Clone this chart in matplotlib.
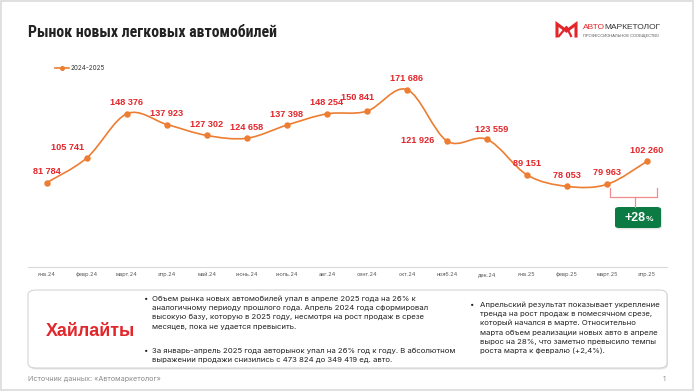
import matplotlib
matplotlib.use("Agg")
import matplotlib.pyplot as plt
import numpy as np
from matplotlib import font_manager
from matplotlib.font_manager import FontProperties
from matplotlib.patches import FancyBboxPatch, Rectangle, PathPatch
from matplotlib.path import Path
from matplotlib.lines import Line2D

W, H = 696, 392

months = [
    "янв.24", "февр.24", "март.24", "апр.24", "май.24", "июнь.24", "июль.24",
    "авг.24", "сент.24", "окт.24", "нояб.24", "дек.24", "янв.25", "февр.25",
    "март.25", "апр.25",
]
sales = [
    81784, 105741, 148376, 137923, 127302, 124658, 137398, 148254,
    150841, 171686, 121926, 123559, 89151, 78053, 79963, 102260,
]
# label offsets from the point, in pixels (dx, dy up)
label_dx = [0, -19, 0, 0, 0, 0, 0, 0, -9, 0, -29, 5, 0, 0, 0, 0]
label_dy = [11, 10, 11, 11, 11, 11, 11, 11, 14, 11, 1, 10, 11, 11, 12, 11]

series_name = "2024-2025"
growth_label = "+28"

bullets_left = [
    ["Объем рынка новых автомобилей упал в апреле 2025 года на 26% к",
     "аналогичному периоду прошлого года. Апрель 2024 года сформировал",
     "высокую базу, которую в 2025 году, несмотря на рост продаж в срезе",
     "месяцев, пока не удается превысить."],
    ["За январь-апрель 2025 года авторынок упал на 26% год к году. В абсолютном",
     "выражении продажи снизились с 473 824 до 349 419 ед. авто."],
]
bullets_right = [
    ["Апрельский результат показывает укрепление",
     "тренда на рост продаж в помесячном срезе,",
     "который начался в марте. Относительно",
     "марта объем реализации новых авто в апреле",
     "вырос на 28%, что заметно превысило темпы",
     "роста марта к февралю (+2,4%)."],
]

ORANGE = "#ED7D31"
RED = "#E3262A"
GREEN = "#0B7A43"


def pick(*names):
    for n in names:
        try:
            font_manager.findfont(n, fallback_to_default=False)
            return n
        except ValueError:
            continue
    return "DejaVu Sans"


def narrow_bold():
    # look for an installed condensed / narrow bold face for the title
    prefs = ["LiberationSansNarrow-Bold", "NotoSans-CondensedBold", "NotoSans-SemiCondensedBold",
             "RobotoCondensed-Bold", "DejaVuSansCondensed-Bold"]
    files = [f.fname for f in font_manager.fontManager.ttflist]
    for p in prefs:
        for f in files:
            if f.split("/")[-1].startswith(p + "."):
                return FontProperties(fname=f)
    return FontProperties(family=pick("Roboto", "Liberation Sans"), weight="bold")


NUM_FONT = pick("Liberation Sans", "Roboto")
BODY_FONT = pick("Inter", "Roboto", "Noto Sans")


def fx(x):
    return x / W


def fy(y):
    return 1 - y / H


def smooth_path(xs, ys):
    # Excel-like smoothed line: cubic Bezier segments through the points
    n = len(xs)
    verts = [(xs[0], ys[0])]
    codes = [Path.MOVETO]
    for i in range(n - 1):
        x0, y0 = xs[max(i - 1, 0)], ys[max(i - 1, 0)]
        x1, y1 = xs[i], ys[i]
        x2, y2 = xs[i + 1], ys[i + 1]
        x3, y3 = xs[min(i + 2, n - 1)], ys[min(i + 2, n - 1)]
        c1 = (x1 + (x2 - x0) / 6, y1 + (y2 - y0) / 6)
        c2 = (x2 - (x3 - x1) / 6, y2 - (y3 - y1) / 6)
        verts += [c1, c2, (x2, y2)]
        codes += [Path.CURVE4] * 3
    return Path(verts, codes)


def fit_width(t, target_px):
    r = fig.canvas.get_renderer()
    w = t.get_window_extent(r).width
    t.set_fontsize(t.get_fontsize() * target_px / w)


fig = plt.figure(figsize=(W / 100, H / 100), dpi=100)
fig.patch.set_facecolor("white")

# slide frame
fig.patches.append(Rectangle((fx(0.5), fy(390)), fx(692.5), 389.5 / H, transform=fig.transFigure,
                             fill=False, edgecolor="#DADADA", linewidth=1.2))

# title
title = fig.text(fx(28), fy(37), "Рынок новых легковых автомобилей", fontproperties=narrow_bold(),
                 fontsize=13, color="#222222", ha="left", va="baseline")
fit_width(title, 249)

# logo
fig.add_artist(Line2D([fx(557), fx(557), fx(566.5), fx(576), fx(576)],
                      [fy(36), fy(24), fy(31), fy(24), fy(36)],
                      transform=fig.transFigure, color=RED, linewidth=2.2, solid_joinstyle="miter"))
fig.add_artist(Line2D([fx(559), fx(566.5), fx(571)], [fy(36), fy(27), fy(36)],
                      transform=fig.transFigure, color=RED, linewidth=1.6))
logo_a = fig.text(fx(583), fy(29), "АВТО", fontsize=6.0, family=NUM_FONT, color=RED,
                  ha="left", va="baseline")
x_end = logo_a.get_window_extent(fig.canvas.get_renderer()).x1
fig.text((x_end - 1) / W, fy(29), "МАРКЕТОЛОГ", fontsize=6.0, family=NUM_FONT, color="#333333",
         ha="left", va="baseline")
fig.text(fx(583), fy(35.5), "ПРОФЕССИОНАЛЬНОЕ СООБЩЕСТВО", fontsize=2.9, family=NUM_FONT,
         color="#555555", ha="left", va="center")

# chart
ax = fig.add_axes([fx(28), fy(267), (667 - 28) / W, (267 - 80) / H])
x = np.arange(len(sales))
ax.add_patch(PathPatch(smooth_path(x, sales), facecolor="none", edgecolor=ORANGE, linewidth=1.2))
ax.plot(x, sales, linestyle="none", marker="o", markersize=3.6, color=ORANGE)
ax.set_xlim(-0.475, 15.5)
ax.set_ylim(0, 181000)
for s in ["top", "left", "right"]:
    ax.spines[s].set_visible(False)
ax.spines["bottom"].set_color("#D9D9D9")
ax.spines["bottom"].set_linewidth(0.8)
ax.set_yticks([])
ax.set_xticks(x)
ax.set_xticklabels(months, fontsize=4, color="#595959", family=BODY_FONT)
ax.tick_params(axis="x", length=0, pad=3.8)

for i, v in enumerate(sales):
    lbl = f"{v:,}".replace(",", " ")
    ax.annotate(lbl, (i, v), xytext=(label_dx[i] * 0.72, label_dy[i] * 0.72), textcoords="offset points",
                ha="center", va="center", fontsize=6.6, fontweight="bold", color=RED, family=NUM_FONT)

# legend
fig.add_artist(Line2D([fx(55), fx(69)], [fy(68), fy(68)], transform=fig.transFigure, color=ORANGE,
                      linewidth=1.2))
fig.add_artist(Line2D([fx(62)], [fy(68)], transform=fig.transFigure, color=ORANGE, marker="o",
                      markersize=2.6, linestyle="none"))
fig.text(fx(71), fy(68), series_name, fontsize=4.6, color="#333333", family=BODY_FONT, ha="left", va="center")

# bracket and growth badge
bc = "#F08C8C"
fig.add_artist(Line2D([fx(610), fx(610), fx(657), fx(657)], [fy(188), fy(197), fy(197), fy(188)],
                      transform=fig.transFigure, color=bc, linewidth=0.9))
fig.add_artist(Line2D([fx(635), fx(635)], [fy(197), fy(207)], transform=fig.transFigure, color=bc, linewidth=0.9))
fig.patches.append(FancyBboxPatch((fx(616), fy(229.5)), (662 - 616) / W, (229.5 - 208) / H,
                                  boxstyle="round,pad=0,rounding_size=0.006", transform=fig.transFigure,
                                  facecolor="#D8D8D8", edgecolor="none", alpha=0.6))
fig.patches.append(FancyBboxPatch((fx(615), fy(228)), (661 - 615) / W, (228 - 207) / H,
                                  boxstyle="round,pad=0,rounding_size=0.006", transform=fig.transFigure,
                                  facecolor=GREEN, edgecolor="none"))
fig.text(fx(635), fy(218), growth_label, fontsize=9, fontweight="bold", color="white",
         family=NUM_FONT, ha="center", va="center")
fig.text(fx(645.5), fy(219.5), "%", fontsize=6, fontweight="bold", color="white",
         family=NUM_FONT, ha="left", va="center")

# highlights box
fig.patches.append(FancyBboxPatch((fx(29), fy(369.5)), (667 - 28) / W, (369.5 - 291) / H,
                                  boxstyle="round,pad=0,rounding_size=0.012", transform=fig.transFigure,
                                  facecolor="#E4E4E4", edgecolor="none"))
fig.patches.append(FancyBboxPatch((fx(28), fy(368)), (667 - 28) / W, (368 - 290) / H,
                                  boxstyle="round,pad=0,rounding_size=0.012", transform=fig.transFigure,
                                  facecolor="white", edgecolor="#D5D5D5", linewidth=0.8))
hl = fig.text(fx(46), fy(331), "Хайлайты", fontsize=12, fontweight="bold", color=RED,
              family=NUM_FONT, ha="left", va="center")
fit_width(hl, 89)

body_kw = dict(fontsize=5.6, color="#222222", family=BODY_FONT, ha="left", va="center_baseline")
LINE = 9.35


def draw_bullets(groups, starts, x_dot, x_text):
    for lines, yc in zip(groups, starts):
        fig.text(fx(x_dot), fy(yc), "•", **body_kw)
        for k, ln in enumerate(lines):
            fig.text(fx(x_text), fy(yc + k * LINE), ln, **body_kw)


draw_bullets(bullets_left, [298, 350], 144, 152)
draw_bullets(bullets_right, [304], 470, 480)

fig.text(fx(28), fy(379), "Источник данных: «Автомаркетолог»", fontsize=5.2, color="#8C8C8C",
         family=BODY_FONT, ha="left", va="center")
fig.text(fx(666), fy(379), "1", fontsize=5.2, color="#8C8C8C", family=BODY_FONT, ha="right", va="center")

fig.savefig("out.png", dpi=100, facecolor="white")
